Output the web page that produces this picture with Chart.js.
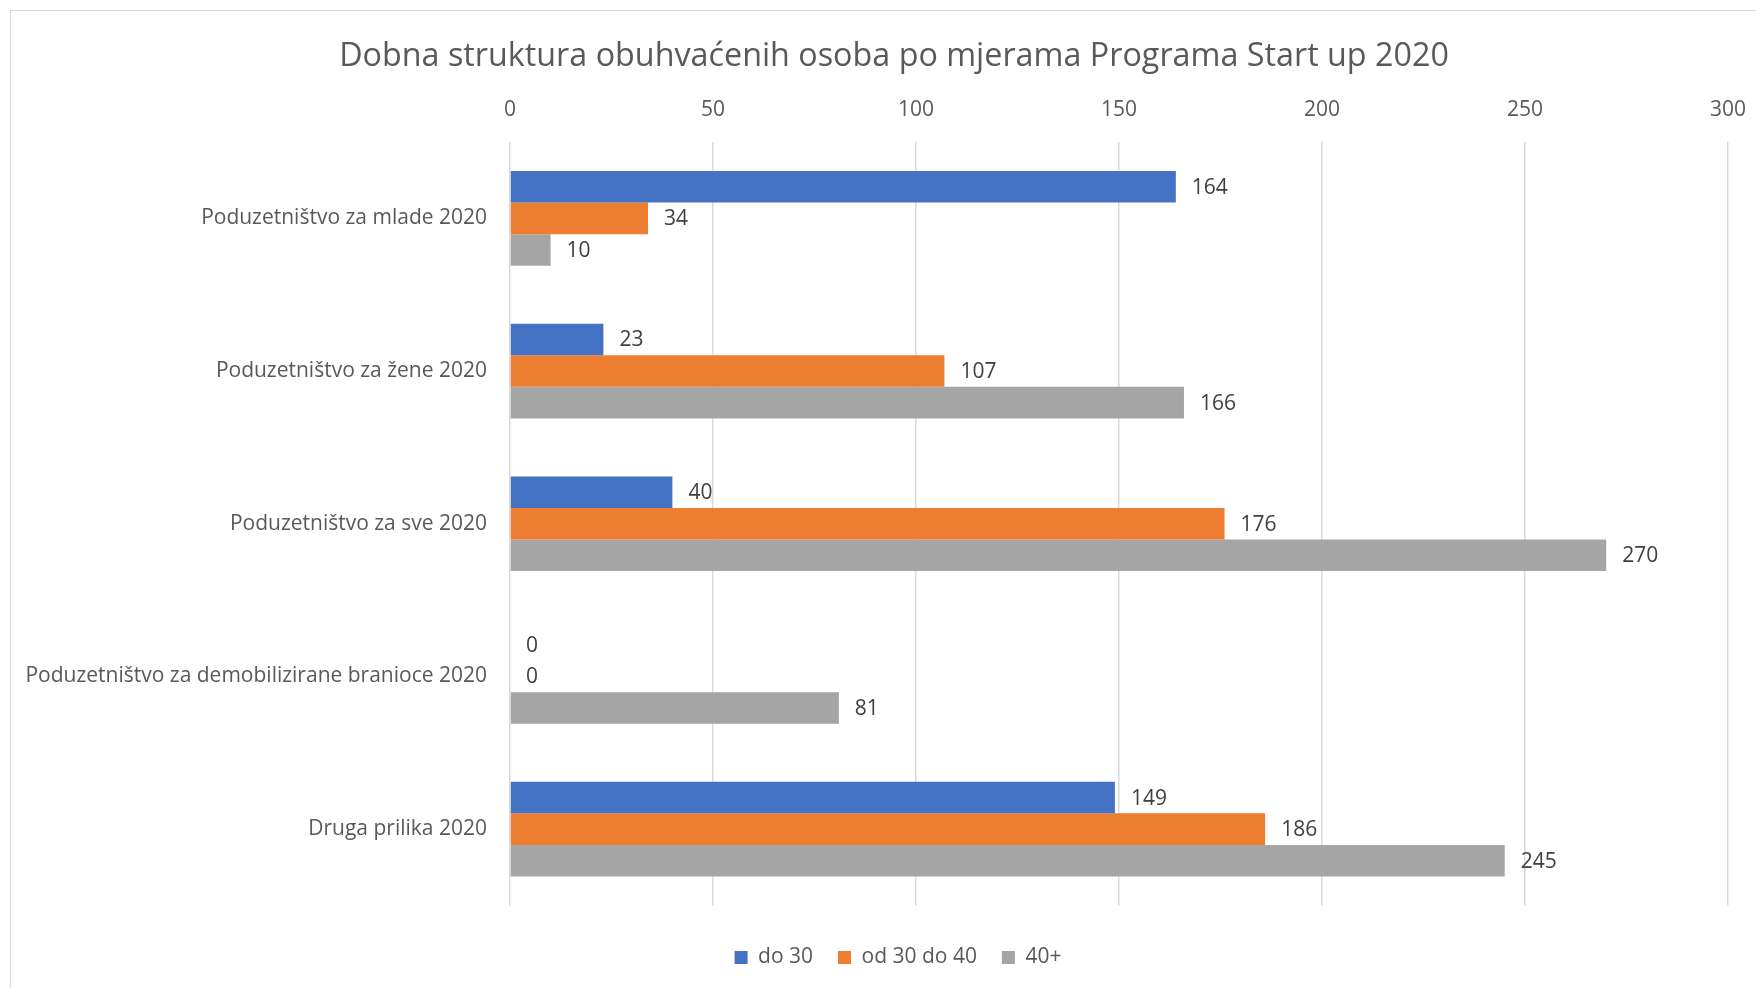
<!DOCTYPE html>
<html>
<head>
<meta charset="utf-8">
<script src="https://cdn.jsdelivr.net/npm/chart.js@4.4.0/dist/chart.umd.min.js"></script>
<style>
  html, body { margin: 0; padding: 0; background: #ffffff; }
  #c { display: block; }
</style>
</head>
<body>
<canvas id="c" width="1756" height="988"></canvas>
<script>
const titleText = 'Dobna struktura obuhvaćenih osoba po mjerama Programa Start up 2020';
const categories = [
  'Poduzetništvo za mlade 2020',
  'Poduzetništvo za žene 2020',
  'Poduzetništvo za sve 2020',
  'Poduzetništvo za demobilizirane branioce 2020',
  'Druga prilika 2020'
];
const seriesNames = ['do 30', 'od 30 do 40', '40+'];
const do30 = [164, 23, 40, 0, 149];
const od30do40 = [34, 107, 176, 0, 186];
const plus40 = [10, 166, 270, 81, 245];
const axisMin = 0;
const axisMax = 300;
const axisStep = 50;

const FONT = "'Open Sans', 'Noto Sans', sans-serif";
const FS = 21;
const colors = ['#4472C4', '#ED7D31', '#A5A5A5'];

const framePlugin = {
  id: 'frame',
  beforeDraw(chart) {
    const ctx = chart.ctx;
    ctx.save();
    ctx.fillStyle = '#ffffff';
    ctx.fillRect(0, 0, chart.width, chart.height);
    ctx.strokeStyle = '#d9d9d9';
    ctx.lineWidth = 1;
    ctx.beginPath();
    ctx.moveTo(10.5, chart.height);
    ctx.lineTo(10.5, 10.5);
    ctx.lineTo(chart.width, 10.5);
    ctx.stroke();
    ctx.restore();
  },
  afterLayout(chart) {
    if (chart.legend) {
      chart.legend.left += 4;
      chart.legend.right += 4;
    }
  }
};

const valueLabels = {
  id: 'valueLabels',
  afterDatasetsDraw(chart) {
    const ctx = chart.ctx;
    ctx.save();
    ctx.font = FS + 'px ' + FONT;
    ctx.fillStyle = '#404040';
    ctx.textAlign = 'left';
    ctx.textBaseline = 'middle';
    chart.data.datasets.forEach((ds, di) => {
      const meta = chart.getDatasetMeta(di);
      meta.data.forEach((bar, i) => {
        ctx.fillText(String(ds.data[i]), bar.x + 16, bar.y + 1);
      });
    });
    ctx.restore();
  }
};

new Chart(document.getElementById('c'), {
  type: 'bar',
  data: {
    labels: categories,
    datasets: [
      { label: seriesNames[0], data: do30, backgroundColor: colors[0] },
      { label: seriesNames[1], data: od30do40, backgroundColor: colors[1] },
      { label: seriesNames[2], data: plus40, backgroundColor: colors[2] }
    ]
  },
  options: {
    indexAxis: 'y',
    responsive: false,
    animation: false,
    devicePixelRatio: 1,
    layout: { padding: { left: 60, right: 28, top: 10, bottom: 10 } },
    datasets: { bar: { categoryPercentage: 0.62, barPercentage: 1.0 } },
    scales: {
      x: {
        position: 'top',
        min: axisMin,
        max: axisMax,
        ticks: {
          stepSize: axisStep,
          padding: 19.4,
          color: '#595959',
          font: { family: FONT, size: FS }
        },
        grid: { color: '#d9d9d9', lineWidth: 1.5, drawTicks: false },
        border: { display: false },
        afterFit(scale) {
          scale.height = 44.6;
          scale.paddingLeft = 0;
          scale.paddingRight = 0;
        }
      },
      y: {
        ticks: {
          padding: 23,
          color: '#595959',
          font: { family: FONT, size: FS }
        },
        grid: { display: false, drawTicks: false },
        border: { display: false },
        afterFit(scale) {
          scale.width = 450;
          scale._computeLabelArea = function () { return undefined; };
        }
      }
    },
    plugins: {
      title: {
        display: true,
        text: titleText,
        color: '#595959',
        font: { family: FONT, size: 32.3, weight: 'normal' },
        padding: { top: 27.8, bottom: 20.84 }
      },
      legend: {
        position: 'bottom',
        title: { display: true, text: '', font: { size: 10 }, padding: { top: 0, bottom: 4.5 } },
        labels: {
          boxWidth: 13,
          boxHeight: 13,
          padding: 25,
          color: '#595959',
          font: { family: FONT, size: FS }
        }
      },
      tooltip: { enabled: false }
    }
  },
  plugins: [framePlugin, valueLabels]
});
</script>
</body>
</html>
